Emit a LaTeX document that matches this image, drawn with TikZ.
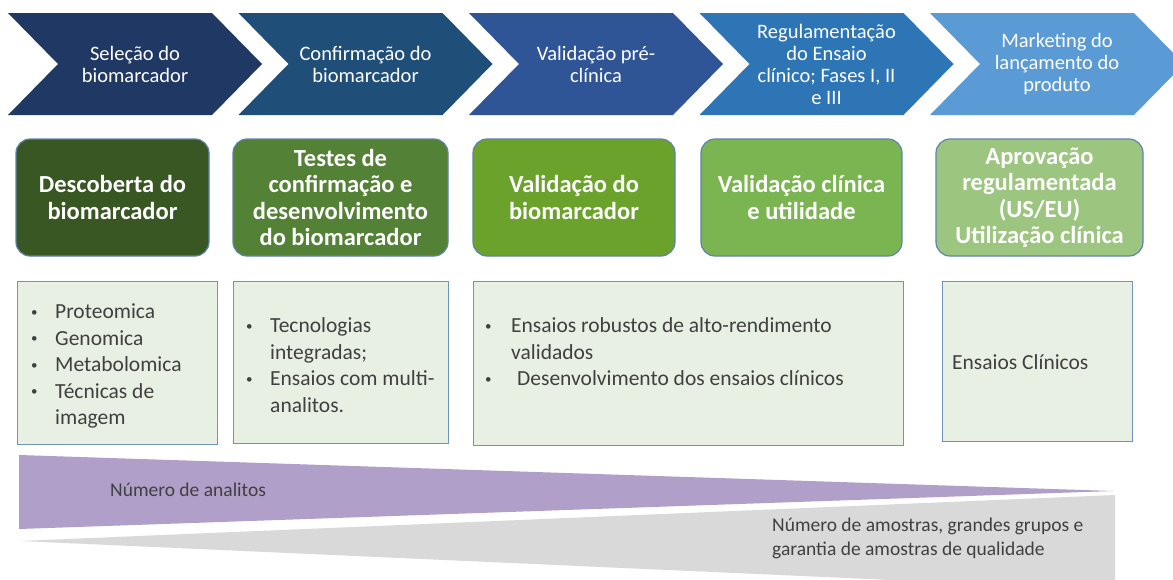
\documentclass[tikz,border=0pt]{standalone}
\usepackage{fontspec}
\setmainfont{Carlito}
\usetikzlibrary{positioning}

\definecolor{chevA}{HTML}{203864}
\definecolor{chevB}{HTML}{1F4E79}
\definecolor{chevC}{HTML}{2F5597}
\definecolor{chevD}{HTML}{2E75B6}
\definecolor{chevE}{HTML}{5B9BD5}
\definecolor{stageA}{HTML}{385723}
\definecolor{stageB}{HTML}{538135}
\definecolor{stageC}{HTML}{6AA22C}
\definecolor{stageD}{HTML}{7AB552}
\definecolor{stageE}{HTML}{9CC67F}
\definecolor{listfill}{HTML}{E7F0E2}
\definecolor{listline}{HTML}{6E93BE}
\definecolor{stageline}{HTML}{5E84AC}
\definecolor{analitos}{HTML}{B09FC8}
\definecolor{amostras}{HTML}{D9D9D9}
\definecolor{bodytext}{HTML}{404040}

\newcommand{\smallbul}{\raisebox{2.5pt}{\fontsize{13}{13}\selectfont •}}

\tikzset{
  phase/.style={text=white, align=center, inner sep=0pt,
    font=\fontsize{20.5}{22}\selectfont},
  stagebox/.style={draw=stageline, line width=1.2pt, rounded corners=14pt,
    text=white, align=center, minimum height=117pt,
    font=\bfseries\fontsize{24.5}{26.5}\selectfont},
  listbox/.style={draw=listline, fill=listfill, line width=1.2pt, anchor=north west},
  listtext/.style={text=bodytext, anchor=north west, inner sep=0pt,
    font=\fontsize{21.5}{26.5}\selectfont},
  wedgetext/.style={text=bodytext, anchor=west, inner sep=0pt, align=left,
    font=\fontsize{19.5}{24}\selectfont},
}

\begin{document}
\begin{tikzpicture}[x=1pt, y=-1pt]
    \clip (0,0) rectangle (1173,579);
    \fill[white] (0,0) rectangle (1173,579);

    % Phase chevrons
    \foreach \i/\col/\txt in {0/chevA/{Seleção do\\biomarcador},
        1/chevB/{Confirmação do\\biomarcador},
        2/chevC/{Validação pré-\\clínica},
        3/chevD/{Regulamentação\\do Ensaio\\clínico; Fases I, II\\e III},
        4/chevE/{Marketing do\\lançamento do\\produto}} {
      \pgfmathsetmacro{\lx}{8+230.5*\i}
      \fill[\col] (\lx,13) -- (\lx+204,13) -- (\lx+254,64) -- (\lx+204,115)
        -- (\lx,115) -- (\lx+50,64) -- cycle;
      \node[phase] (phase\i) at (\lx+127,64) {\txt};
    }

    % Stage boxes
    \node[stagebox, fill=stageA, minimum width=193pt] (stage1) at (112.5,197.5)
      {Descoberta do\\biomarcador};
    \node[stagebox, fill=stageB, minimum width=215pt] (stage2) at (340.5,197.5)
      {Testes de\\confirmação e\\desenvolvimento\\do biomarcador};
    \node[stagebox, fill=stageC, minimum width=202pt] (stage3) at (574,197.5)
      {Validação do\\biomarcador};
    \node[stagebox, fill=stageD, minimum width=201pt] (stage4) at (801.5,197.5)
      {Validação clínica\\e utilidade};
    \node[stagebox, fill=stageE, minimum width=207pt] (stage5) at (1039.5,197.5)
      {Aprovação\\regulamentada\\(US/EU)\\Utilização clínica};

    % Lists
    \node[listbox, minimum width=200pt, minimum height=163pt] (list1) at (17,281) {};
    \node[listbox, minimum width=215pt, minimum height=162pt] (list2) at (233,281) {};
    \node[listbox, minimum width=430pt, minimum height=164pt] (list3) at (473,281) {};
    \node[listbox, minimum width=190pt, minimum height=160pt] (list4) at (942,281) {};

    \node[listtext] (items1) at (31,300) {\begin{tabular}{@{}p{24pt}@{}l@{}}
      \smallbul & Proteomica\\ \smallbul & Genomica\\ \smallbul & Metabolomica\\
      \smallbul & Técnicas de\\ & imagem\end{tabular}};
    \node[listtext] (items2) at (246,314) {\begin{tabular}{@{}p{24pt}@{}l@{}}
      \smallbul & Tecnologias\\ & integradas;\\ \smallbul & Ensaios com multi-\\
      & analitos.\end{tabular}};
    \node[listtext] (items3) at (485,314) {\begin{tabular}{@{}p{26pt}@{}l@{}}
      \smallbul & Ensaios robustos de alto-rendimento\\ & validados\\
      \smallbul & \hspace{6pt}Desenvolvimento dos ensaios clínicos\end{tabular}};
    \node[listtext, anchor=base west] (items4) at (952,369) {Ensaios Clínicos};

    % Trend wedges
    \fill[analitos] (19,455) -- (1113,491) -- (19,529) -- cycle;
    \fill[amostras] (20,541) -- (1115,495) -- (1115,590) -- cycle;
    \node[wedgetext] (analitos) at (110,490) {Número de analitos};
    \node[wedgetext] (amostras) at (772,538)
      {Número de amostras, grandes grupos e\\garantia de amostras de qualidade};
\end{tikzpicture}
\end{document}
